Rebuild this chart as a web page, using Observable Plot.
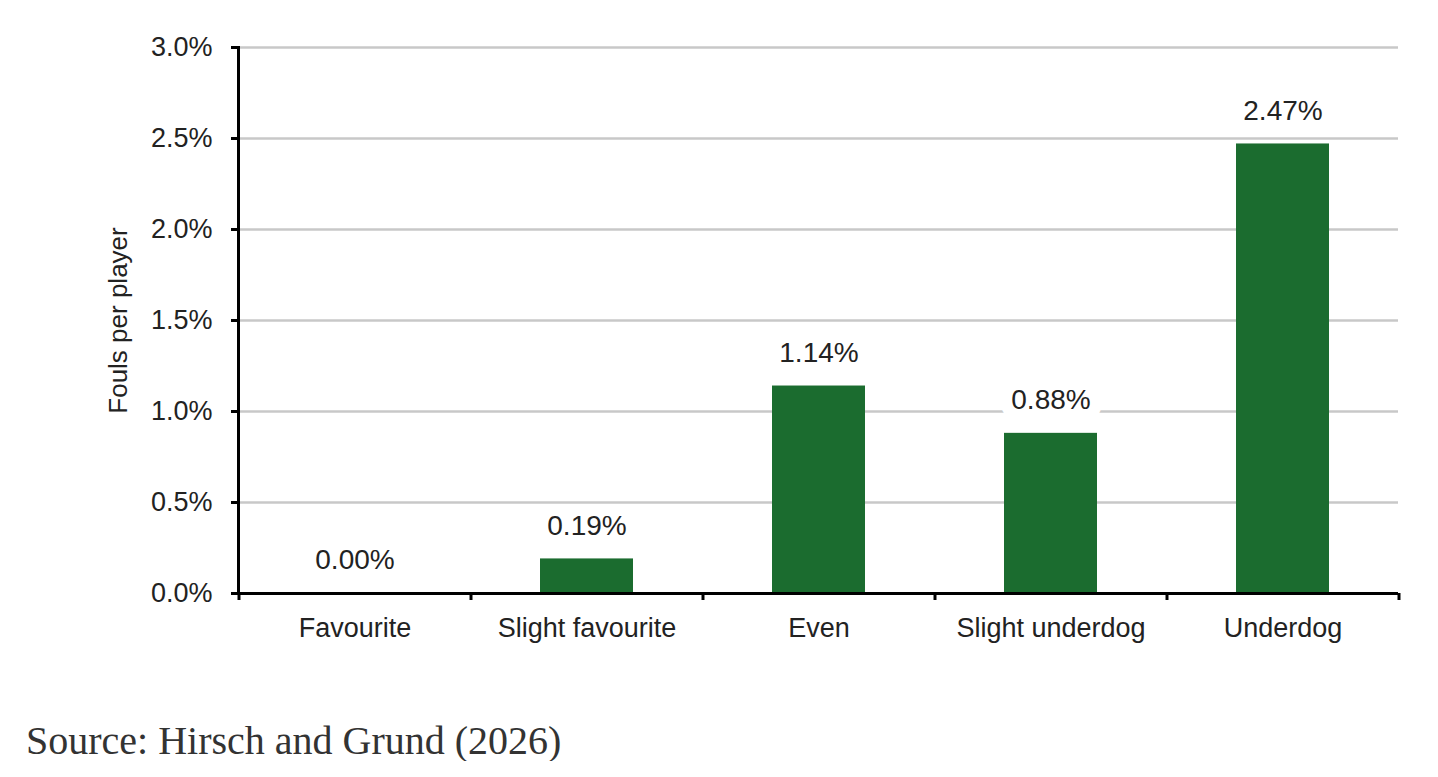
<!DOCTYPE html>
<html>
<head>
<meta charset="utf-8">
<script src="https://cdn.jsdelivr.net/npm/d3@7"></script>
<script src="https://cdn.jsdelivr.net/npm/@observablehq/plot@0.6"></script>
<style>
  html, body { margin: 0; padding: 0; background: #fff; }
  #chart svg { display: block; }
  #caption {
    font-family: "Liberation Serif", "DejaVu Serif", serif;
    font-size: 40px;
    line-height: 1;
    color: #333;
    margin: 41px 0 0 26px;
  }
</style>
</head>
<body>
<div id="chart"></div>
<div id="caption">Source: Hirsch and Grund (2026)</div>
<script>
const categories = ["Favourite", "Slight favourite", "Even", "Slight underdog", "Underdog"];
const values = [0.0000, 0.0019, 0.0114, 0.0088, 0.0247];
const yTicks = [0, 0.005, 0.01, 0.015, 0.02, 0.025, 0.03];
const yLabel = "Fouls per player";

const data = categories.map((c, i) => ({category: c, value: values[i]}));

const font = "'Liberation Sans', Arial, Helvetica, sans-serif";
const step = (1398 - 238) / categories.length;

const chart = Plot.plot({
  width: 1438,
  height: 680,
  marginLeft: 238,
  marginRight: 40,
  marginTop: 47,
  marginBottom: 87,
  style: {fontFamily: font, color: "#222", background: "#fff"},
  x: {domain: categories, paddingInner: 0.6, paddingOuter: 0.3},
  y: {domain: [0, 0.03]},
  marks: [
    Plot.gridY(yTicks, {stroke: "#c8c8c8", strokeOpacity: 1, strokeWidth: 2.5}),
    Plot.barY(data, {x: "category", y: "value", fill: "#1b6c2f"}),
    Plot.ruleY([0], {stroke: "#000", strokeWidth: 3}),
    Plot.frame({anchor: "left", stroke: "#000", strokeWidth: 3}),
    Plot.axisY({ticks: yTicks, tickFormat: d3.format(".1%"), tickSize: 7, tickPadding: 19,
      stroke: "#000", strokeWidth: 3, fontSize: 27, fill: "#222", label: null}),
    Plot.axisX({tickFormat: null, tickSize: 7, dx: -step / 2, stroke: "#000", strokeWidth: 3, label: null}),
    Plot.axisX({ticks: [categories[categories.length - 1]], tickFormat: null, tickSize: 7, dx: step / 2,
      stroke: "#000", strokeWidth: 3, label: null}),
    Plot.axisX({tickSize: 0, tickPadding: 24, fontSize: 27, fill: "#222", label: null}),
    Plot.text([yLabel], {frameAnchor: "left", rotate: -90, dx: -130, lineAnchor: "top",
      textAnchor: "middle", fontSize: 26, fill: "#222"}),
    Plot.text(data, {x: "category", y: "value", text: d => d3.format(".2%")(d.value),
      dy: -33, lineAnchor: "middle", fontSize: 28, fill: "#222",
      stroke: "white", strokeWidth: 24, strokeLinejoin: "round"})
  ]
});
document.getElementById("chart").appendChild(chart);
</script>
</body>
</html>
